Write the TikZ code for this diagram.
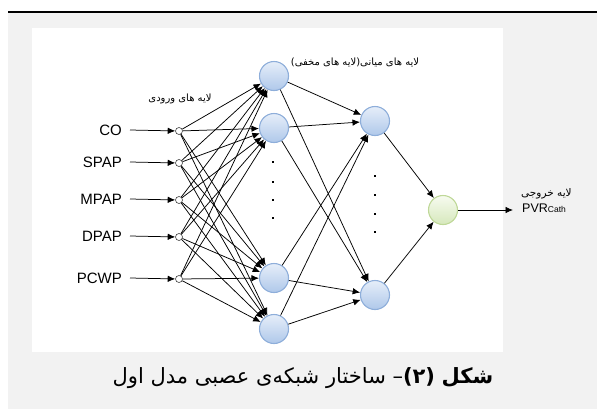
\documentclass[tikz,border=0pt]{standalone}
\usepackage{fontspec}
\setmainfont{Liberation Sans}
\newfontfamily\arabicfont[Script=Arabic]{DejaVu Sans}
\TeXXeTstate=1
\usetikzlibrary{arrows.meta}
\definecolor{graybg}{HTML}{F2F2F2}
\definecolor{ballrim}{HTML}{8EAEDA}
\definecolor{balltop}{HTML}{E6EEF9}
\definecolor{ballbot}{HTML}{AFC8EA}
\definecolor{greenrim}{HTML}{BFD898}
\definecolor{greentop}{HTML}{F7FBF0}
\definecolor{greenbot}{HTML}{D6E8BC}
\tikzset{
  inpnode/.style={circle,draw=black!75,fill=white,line width=0.6pt,minimum size=7pt,inner sep=0pt},
  ballnode/.style={circle,draw=ballrim,line width=1.1pt,top color=balltop,bottom color=ballbot,minimum size=29pt,inner sep=0pt},
  outnode/.style={circle,draw=greenrim,line width=1.1pt,top color=greentop,bottom color=greenbot,minimum size=29pt,inner sep=0pt},
  varlab/.style={font=\fontsize{15}{17}\selectfont,anchor=east,inner sep=0pt},
  arr/.style={-{Latex[length=7.5pt,width=6.5pt]},line width=0.75pt,black},
  fa/.style={font=\arabicfont\fontsize{10}{12}\selectfont,inner sep=0pt},
  dotmark/.style={fill=black,minimum size=2.6pt,inner sep=0pt,rectangle}
}
\begin{document}
\begin{tikzpicture}[x=1pt,y=-1pt]
\useasboundingbox (0,0) rectangle (597,410);
\fill[graybg] (8,13) rectangle (597,409);
\fill[white] (32,28) rectangle (503,352);
\draw[line width=2pt] (8,12) -- (597,12);

% input layer
\node[inpnode] (i1) at (179,131) {};
\node[inpnode] (i2) at (179,163) {};
\node[inpnode] (i3) at (179,200) {};
\node[inpnode] (i4) at (179,237) {};
\node[inpnode] (i5) at (179,279) {};
\node[varlab] (l1) at (122,130) {CO};
\node[varlab] (l2) at (122,162) {SPAP};
\node[varlab] (l3) at (122,199) {MPAP};
\node[varlab] (l4) at (122,236) {DPAP};
\node[varlab] (l5) at (122,278) {PCWP};
\foreach \k in {1,...,5}{\draw[arr] ([xshift=8pt]l\k.east) -- (i\k);}

% hidden layer 1
\node[ballnode] (h1) at (274,76) {};
\node[ballnode] (h2) at (274,128) {};
\node[ballnode] (h3) at (274,278) {};
\node[ballnode] (h4) at (274,329) {};
\node[dotmark] (d1) at (273,162) {};
\node[dotmark] (d2) at (273,182) {};
\node[dotmark] (d3) at (273,200) {};
\node[dotmark] (d4) at (273,218) {};

% hidden layer 2
\node[ballnode] (g1) at (375,121) {};
\node[ballnode] (g2) at (375,295) {};
\node[dotmark] (e1) at (375,176) {};
\node[dotmark] (e2) at (375,195) {};
\node[dotmark] (e3) at (375,214) {};
\node[dotmark] (e4) at (375,232) {};

% output
\node[outnode] (o) at (443,210) {};
\coordinate (oend) at (513,210);

\foreach \a in {1,...,5}{\foreach \b in {1,...,4}{\draw[arr] (i\a) -- (h\b);}}
\foreach \a in {1,...,4}{\foreach \b in {1,2}{\draw[arr] (h\a) -- (g\b);}}
\foreach \b in {1,2}{\draw[arr] (g\b) -- (o);}
\draw[arr] (o) -- (oend);

% labels
\node[fa] (tin) at (180,99) {\beginR لایه های ورودی\endR};
\node[fa] (thid) at (355,62) {\beginR لایه های میانی(لایه های مخفی)\endR};
\node[fa,anchor=west,font=\arabicfont\fontsize{10.5}{12}\selectfont] (tout) at (521,194) {\beginR لایه خروجی\endR};
\node[anchor=west,inner sep=0pt] (pvr) at (522,208) {\fontsize{12.5}{14}\selectfont PVR\fontsize{8.5}{10}\selectfont Cath};

% caption
\node[inner sep=0pt] (cap) at (303,378) {\arabicfont\fontsize{21}{24}\selectfont\beginR\textbf{شکل} \beginL–\textbf{(۲)}\endL{} ساختار شبکه‌ی عصبی مدل اول\endR};
\end{tikzpicture}
\end{document}
